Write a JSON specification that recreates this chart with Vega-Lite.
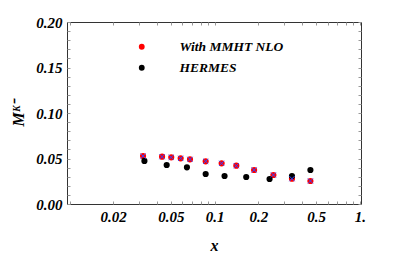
{
  "$schema": "https://vega.github.io/schema/vega-lite/v6.json",
  "width": 294,
  "height": 182,
  "autosize": "none",
  "padding": {"left": 67, "top": 22, "right": 54, "bottom": 55},
  "config": {
    "view": {"stroke": "#333333", "strokeWidth": 1},
    "font": "Liberation Serif",
    "axis": {
      "domain": false,
      "grid": false,
      "tickColor": "#999999",
      "labelFont": "Liberation Serif",
      "labelFontStyle": "italic",
      "labelFontWeight": "bold",
      "labelFontSize": 15,
      "labelColor": "#000000",
      "titleFont": "Liberation Serif",
      "titleFontStyle": "italic",
      "titleFontWeight": "bold",
      "titleFontSize": 16,
      "titleColor": "#000000"
    }
  },
  "resolve": {"axis": {"x": "independent", "y": "independent"}},
  "data": {
    "values": [
      {"series": "With MMHT NLO", "x": 0.0321, "y": 0.0527},
      {"series": "With MMHT NLO", "x": 0.0434, "y": 0.0520},
      {"series": "With MMHT NLO", "x": 0.0502, "y": 0.0513},
      {"series": "With MMHT NLO", "x": 0.0583, "y": 0.0502},
      {"series": "With MMHT NLO", "x": 0.0676, "y": 0.0491},
      {"series": "With MMHT NLO", "x": 0.0867, "y": 0.0469},
      {"series": "With MMHT NLO", "x": 0.1117, "y": 0.0447},
      {"series": "With MMHT NLO", "x": 0.141, "y": 0.0421},
      {"series": "With MMHT NLO", "x": 0.187, "y": 0.0374},
      {"series": "With MMHT NLO", "x": 0.254, "y": 0.0319},
      {"series": "With MMHT NLO", "x": 0.341, "y": 0.0278},
      {"series": "With MMHT NLO", "x": 0.457, "y": 0.0253},
      {"series": "HERMES", "x": 0.0328, "y": 0.0473},
      {"series": "HERMES", "x": 0.0467, "y": 0.0429},
      {"series": "HERMES", "x": 0.0644, "y": 0.0403},
      {"series": "HERMES", "x": 0.0867, "y": 0.0330},
      {"series": "HERMES", "x": 0.117, "y": 0.0308},
      {"series": "HERMES", "x": 0.165, "y": 0.0297},
      {"series": "HERMES", "x": 0.239, "y": 0.0275},
      {"series": "HERMES", "x": 0.341, "y": 0.0308},
      {"series": "HERMES", "x": 0.457, "y": 0.0374}
    ]
  },
  "layer": [
    {
      "mark": {"type": "point", "filled": true, "shape": "circle", "size": 38, "opacity": 1},
      "encoding": {
        "x": {
          "field": "x",
          "type": "quantitative",
          "scale": {"type": "log", "domain": [0.0096, 1.02], "nice": false},
          "axis": {
            "orient": "bottom",
            "title": "x",
            "titlePadding": 13,
            "values": [0.01, 0.02, 0.03, 0.04, 0.05, 0.06, 0.07, 0.08, 0.09, 0.1, 0.2, 0.3, 0.4, 0.5, 0.6, 0.7, 0.8, 0.9, 1],
            "labelExpr": "datum.value == 1 ? '1.' : (indexof([0.02, 0.05, 0.1, 0.2, 0.5], datum.value) >= 0 ? format(datum.value, '~g') : '')",
            "labelOverlap": false,
            "labelFlush": false,
            "labelPadding": 8,
            "tickSize": -3
          }
        },
        "y": {
          "field": "y",
          "type": "quantitative",
          "scale": {"domain": [0, 0.2], "nice": false, "zero": false},
          "axis": {
            "orient": "left",
            "title": "Mᴷ⁻",
            "titlePadding": 9,
            "values": [0, 0.01, 0.02, 0.03, 0.04, 0.05, 0.06, 0.07, 0.08, 0.09, 0.1, 0.11, 0.12, 0.13, 0.14, 0.15, 0.16, 0.17, 0.18, 0.19, 0.2],
            "labelExpr": "indexof([0, 0.05, 0.1, 0.15, 0.2], datum.value) >= 0 ? format(datum.value, '.2f') : ''",
            "labelOverlap": false,
            "labelFlush": false,
            "labelPadding": 8,
            "tickSize": -3
          }
        },
        "color": {
          "field": "series",
          "type": "nominal",
          "scale": {"domain": ["With MMHT NLO", "HERMES"], "range": ["#ff0000", "#000000"]},
          "legend": {
            "orient": "none",
            "legendX": 68,
            "legendY": 18,
            "title": null,
            "padding": 0,
            "symbolType": "circle",
            "symbolSize": 34,
            "labelFont": "Liberation Serif",
            "labelFontStyle": "italic",
            "labelFontWeight": "bold",
            "labelFontSize": 13.5,
            "labelColor": "#000000",
            "labelOffset": 31,
            "rowPadding": 6
          }
        }
      }
    },
    {
      "transform": [{"filter": "datum.series == 'With MMHT NLO'"}],
      "mark": {"type": "point", "shape": "M-1,-1L1,1M1,-1L-1,1", "size": 26, "stroke": "#3344ff", "strokeWidth": 1, "filled": false, "opacity": 1},
      "encoding": {
        "x": {
          "field": "x",
          "type": "quantitative",
          "axis": {
            "orient": "top",
            "title": null,
            "labels": false,
            "values": [0.01, 0.02, 0.03, 0.04, 0.05, 0.06, 0.07, 0.08, 0.09, 0.1, 0.2, 0.3, 0.4, 0.5, 0.6, 0.7, 0.8, 0.9, 1],
            "tickSize": -3
          }
        },
        "y": {
          "field": "y",
          "type": "quantitative",
          "axis": {
            "orient": "right",
            "title": null,
            "labels": false,
            "values": [0, 0.01, 0.02, 0.03, 0.04, 0.05, 0.06, 0.07, 0.08, 0.09, 0.1, 0.11, 0.12, 0.13, 0.14, 0.15, 0.16, 0.17, 0.18, 0.19, 0.2],
            "tickSize": -3
          }
        }
      }
    }
  ]
}
